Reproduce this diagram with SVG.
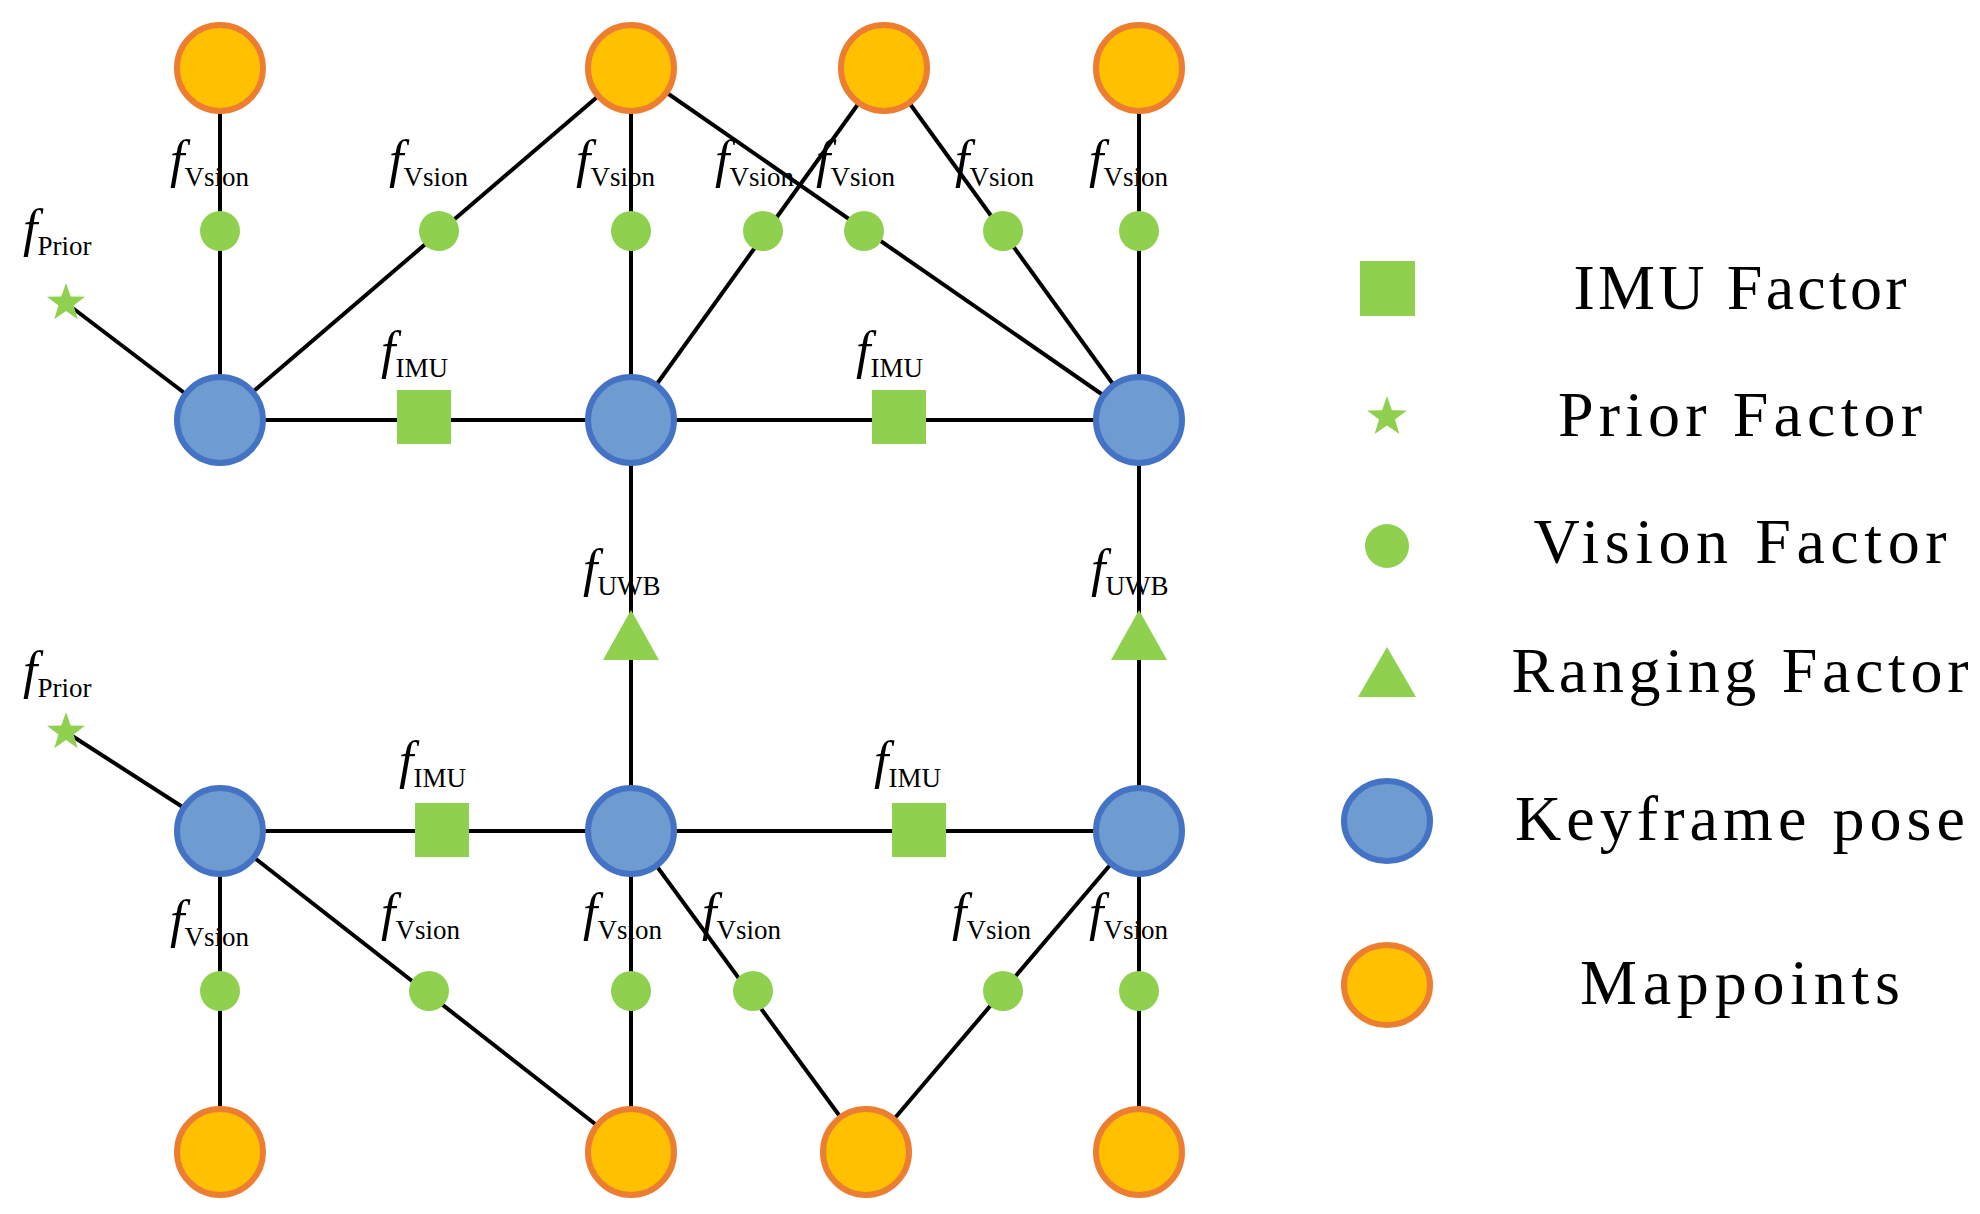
<svg xmlns="http://www.w3.org/2000/svg" xmlns:xlink="http://www.w3.org/1999/xlink" width="1980" height="1214" viewBox="0 0 1980 1214">
<style>
.e{stroke:#000;stroke-width:4;fill:none}
.mp{fill:#FFC000;stroke:#ED7D31;stroke-width:6}
.kf{fill:#6E9BD0;stroke:#4472C4;stroke-width:6}
.g{fill:#8FD14F}
.lb{font-family:"Liberation Serif",serif;fill:#000}
.fi{font-style:italic;font-size:52px}
.sub{font-size:27px}
.leg{font-family:"Liberation Serif",serif;font-size:64px;fill:#000;text-anchor:middle}
</style>
<defs>
<path id="star" d="M0,-20 L4.7,-6.47 L19.02,-6.18 L7.61,2.47 L11.76,16.18 L0,8 L-11.76,16.18 L-7.61,2.47 L-19.02,-6.18 L-4.7,-6.47 Z"/>
</defs>
<rect width="1980" height="1214" fill="#fff"/>
<g id="connectors" class="e">
<line x1="220" y1="68" x2="220" y2="420"/>
<line x1="220" y1="420" x2="631" y2="68"/>
<line x1="631" y1="68" x2="631" y2="420"/>
<line x1="631" y1="420" x2="884" y2="68"/>
<line x1="631" y1="68" x2="1139" y2="420"/>
<line x1="884" y1="68" x2="1139" y2="420"/>
<line x1="1139" y1="68" x2="1139" y2="420"/>
<line x1="66" y1="303" x2="220" y2="420"/>
<line x1="220" y1="420" x2="1139" y2="420"/>
<line x1="631" y1="420" x2="631" y2="831"/>
<line x1="1139" y1="420" x2="1139" y2="831"/>
<line x1="66" y1="732" x2="220" y2="831"/>
<line x1="220" y1="831" x2="1139" y2="831"/>
<line x1="220" y1="831" x2="220" y2="1152"/>
<line x1="220" y1="831" x2="631" y2="1152"/>
<line x1="631" y1="831" x2="631" y2="1152"/>
<line x1="631" y1="831" x2="866" y2="1152"/>
<line x1="1139" y1="831" x2="866" y2="1152"/>
<line x1="1139" y1="831" x2="1139" y2="1152"/>
</g>
<g id="mappoints">
<circle id="mp1" class="mp" cx="220" cy="68" r="43"/>
<circle id="mp2" class="mp" cx="631" cy="68" r="43"/>
<circle id="mp3" class="mp" cx="884" cy="68" r="43"/>
<circle id="mp4" class="mp" cx="1139" cy="68" r="43"/>
<circle id="mp5" class="mp" cx="220" cy="1152" r="43"/>
<circle id="mp6" class="mp" cx="631" cy="1152" r="43"/>
<circle id="mp7" class="mp" cx="866" cy="1152" r="43"/>
<circle id="mp8" class="mp" cx="1139" cy="1152" r="43"/>
</g>
<g id="keyframes">
<circle id="kf1" class="kf" cx="220" cy="420" r="43"/>
<circle id="kf2" class="kf" cx="631" cy="420" r="43"/>
<circle id="kf3" class="kf" cx="1139" cy="420" r="43"/>
<circle id="kf4" class="kf" cx="220" cy="831" r="43"/>
<circle id="kf5" class="kf" cx="631" cy="831" r="43"/>
<circle id="kf6" class="kf" cx="1139" cy="831" r="43"/>
</g>
<g id="vision-factors" class="g">
<circle cx="220" cy="231" r="20"/><circle cx="439" cy="231" r="20"/><circle cx="631" cy="231" r="20"/>
<circle cx="763" cy="231" r="20"/><circle cx="864" cy="231" r="20"/><circle cx="1003" cy="231" r="20"/><circle cx="1139" cy="231" r="20"/>
<circle cx="220" cy="991" r="20"/><circle cx="429" cy="991" r="20"/><circle cx="631" cy="991" r="20"/>
<circle cx="753" cy="991" r="20"/><circle cx="1003" cy="991" r="20"/><circle cx="1139" cy="991" r="20"/>
</g>
<g id="imu-factors" class="g">
<rect x="397" y="390" width="54" height="54"/><rect x="872" y="390" width="54" height="54"/>
<rect x="415" y="803" width="54" height="54"/><rect x="892" y="803" width="54" height="54"/>
</g>
<g id="prior-factors" class="g">
<use xlink:href="#star" transform="translate(66,303)"/>
<use xlink:href="#star" transform="translate(66,732)"/>
</g>
<g id="ranging-factors" class="g">
<polygon points="631,610 603,660 659,660"/>
<polygon points="1139,610 1111,660 1167,660"/>
</g>
<g id="labels" class="lb">
<text x="170" y="177"><tspan class="fi">f</tspan><tspan class="sub" dy="9">Vsion</tspan></text>
<text x="389" y="177"><tspan class="fi">f</tspan><tspan class="sub" dy="9">Vsion</tspan></text>
<text x="576" y="177"><tspan class="fi">f</tspan><tspan class="sub" dy="9">Vsion</tspan></text>
<text x="715" y="177"><tspan class="fi">f</tspan><tspan class="sub" dy="9">Vsion</tspan></text>
<text x="816" y="177"><tspan class="fi">f</tspan><tspan class="sub" dy="9">Vsion</tspan></text>
<text x="955" y="177"><tspan class="fi">f</tspan><tspan class="sub" dy="9">Vsion</tspan></text>
<text x="1089" y="177"><tspan class="fi">f</tspan><tspan class="sub" dy="9">Vsion</tspan></text>
<text x="23" y="246"><tspan class="fi">f</tspan><tspan class="sub" dy="9">Prior</tspan></text>
<text x="23" y="688"><tspan class="fi">f</tspan><tspan class="sub" dy="9">Prior</tspan></text>
<text x="381" y="368"><tspan class="fi">f</tspan><tspan class="sub" dy="9">IMU</tspan></text>
<text x="856" y="368"><tspan class="fi">f</tspan><tspan class="sub" dy="9">IMU</tspan></text>
<text x="399" y="778"><tspan class="fi">f</tspan><tspan class="sub" dy="9">IMU</tspan></text>
<text x="874" y="778"><tspan class="fi">f</tspan><tspan class="sub" dy="9">IMU</tspan></text>
<text x="583" y="586"><tspan class="fi">f</tspan><tspan class="sub" dy="9">UWB</tspan></text>
<text x="1091" y="586"><tspan class="fi">f</tspan><tspan class="sub" dy="9">UWB</tspan></text>
<text x="170" y="937"><tspan class="fi">f</tspan><tspan class="sub" dy="9">Vsion</tspan></text>
<text x="381" y="930"><tspan class="fi">f</tspan><tspan class="sub" dy="9">Vsion</tspan></text>
<text x="583" y="930"><tspan class="fi">f</tspan><tspan class="sub" dy="9">Vsion</tspan></text>
<text x="702" y="930"><tspan class="fi">f</tspan><tspan class="sub" dy="9">Vsion</tspan></text>
<text x="952" y="930"><tspan class="fi">f</tspan><tspan class="sub" dy="9">Vsion</tspan></text>
<text x="1089" y="930"><tspan class="fi">f</tspan><tspan class="sub" dy="9">Vsion</tspan></text>
</g>
<g id="legend">
<rect class="g" x="1360" y="261" width="55" height="55"/>
<use class="g" xlink:href="#star" transform="translate(1387,417) scale(1.05)"/>
<circle class="g" cx="1387" cy="546" r="22"/>
<polygon class="g" points="1387,647 1358,697 1416,697"/>
<ellipse class="kf" cx="1387" cy="821" rx="43" ry="40"/>
<ellipse class="mp" cx="1387" cy="985" rx="43" ry="40"/>
<text class="leg" x="1740" y="309" textLength="333">IMU Factor</text>
<text class="leg" x="1740" y="436" textLength="364">Prior Factor</text>
<text class="leg" x="1740" y="563" textLength="413">Vision  Factor</text>
<text class="leg" x="1740" y="692" textLength="457">Ranging Factor</text>
<text class="leg" x="1740" y="840" textLength="450">Keyframe pose</text>
<text class="leg" x="1740" y="1004" textLength="320">Mappoints</text>
</g>
</svg>
